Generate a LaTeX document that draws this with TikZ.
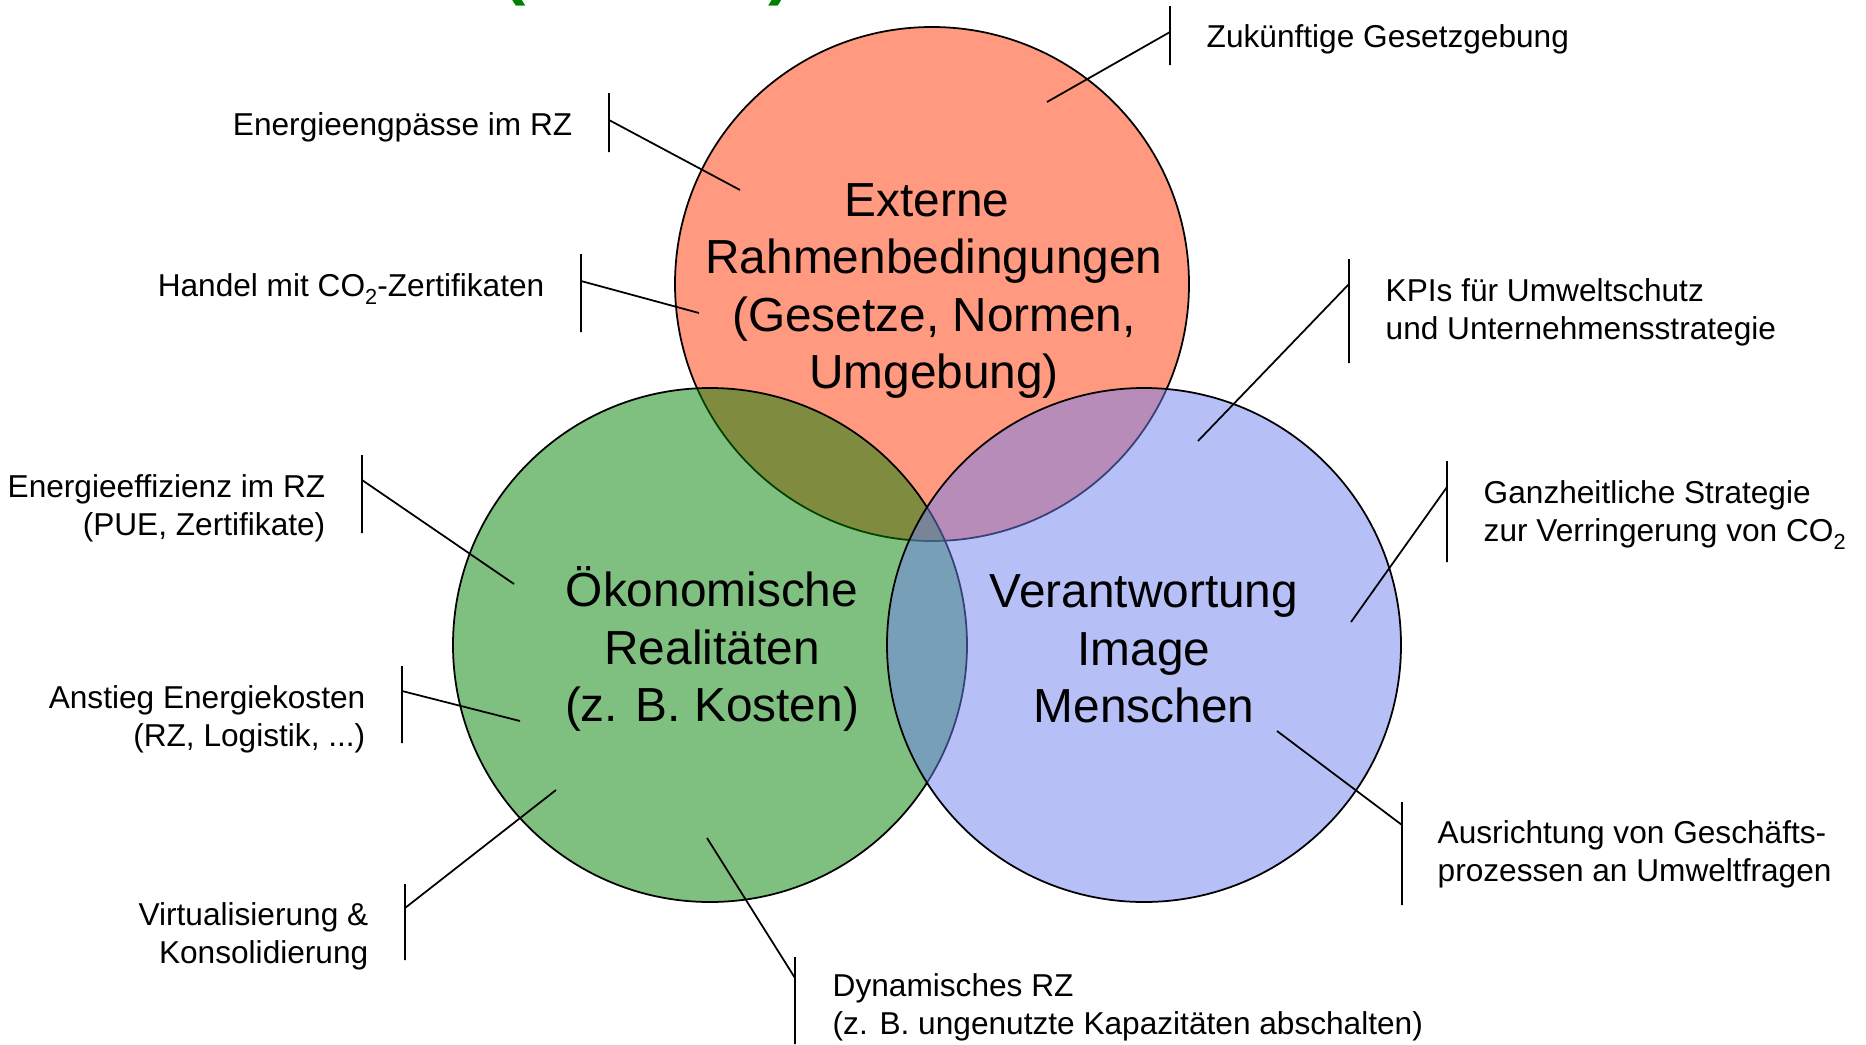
\documentclass[tikz,border=0pt]{standalone}
\usepackage{fontspec}
\setmainfont{Liberation Sans}
\definecolor{extred}{RGB}{255,153,128}
\definecolor{oekogreen}{RGB}{0,128,0}
\definecolor{verblue}{RGB}{112,128,240}
\definecolor{titlegreen}{RGB}{0,128,0}
\newcommand{\cosub}{CO\raisebox{-2.4pt}{\fontsize{6.2}{6.2}\selectfont 2}}
\tikzset{
    venn/.style={circle, draw, line width=0.5pt, minimum size=51.4mm, inner sep=0pt},
    venntext/.style={inner sep=0pt, align=center, font=\fontsize{13.6}{16.4}\selectfont},
    lableft/.style={inner sep=0pt, anchor=base east, align=right,
        font=\fontsize{9}{10.8}\selectfont},
    labright/.style={inner sep=0pt, anchor=base west, align=left,
        font=\fontsize{9}{10.8}\selectfont},
    callout/.style={line width=0.5pt}
}
\begin{document}
\begin{tikzpicture}[x=0.1mm, y=-0.1mm]
    \useasboundingbox (0,0) rectangle (1866,1044);
    % title above, cut off by the page
    \node[text=titlegreen, font=\fontsize{20}{24}\selectfont\bfseries, inner sep=0pt,
        anchor=base west] (title) at (502,-9) {(\hspace{69pt})};
    % the three circles
    \node[venn, fill=extred] (ext) at (932,284) {};
    \node[venn, fill=oekogreen, fill opacity=0.5] (oeko) at (710,645) {};
    \node[venn, fill=verblue, fill opacity=0.5] (verant) at (1144,645) {};
    \node[venntext] (ext-text) at (934,291)
        {Externe\hspace*{0.3em}\\Rahmenbedingungen\\(Gesetze, Normen,\\Umgebung)};
    \node[venntext] (oeko-text) at (712,649)
        {Ökonomische\\Realitäten\\(z. B. Kosten)};
    \node[venntext] (verant-text) at (1144,649)
        {Verantwortung\\Image\\Menschen};

    % callouts on the left
    \node[lableft] (engp) at (573,135) {Energieengpässe im RZ};
    \coordinate (engp-top) at (609,93);
    \coordinate (engp-bot) at (609,152);
    \coordinate (engp-join) at (609,120);
    \coordinate (engp-end) at (740,190);
    \node[lableft] (handel) at (545,296) {Handel mit \cosub-Zertifikaten};
    \coordinate (handel-top) at (581,254);
    \coordinate (handel-bot) at (581,332);
    \coordinate (handel-join) at (581,281);
    \coordinate (handel-end) at (699,313);
    \node[lableft] (eff) at (326,535) {Energieeffizienz im RZ\\(PUE, Zertifikate)};
    \coordinate (eff-top) at (362,455);
    \coordinate (eff-bot) at (362,533);
    \coordinate (eff-join) at (362,480);
    \coordinate (eff-end) at (514,584);
    \node[lableft] (anst) at (366,746) {Anstieg Energiekosten\\(RZ, Logistik, ...)};
    \coordinate (anst-top) at (402,666);
    \coordinate (anst-bot) at (402,743);
    \coordinate (anst-join) at (402,691);
    \coordinate (anst-end) at (520,721);
    \node[lableft] (virt) at (369,963) {Virtualisierung \&\\Konsolidierung};
    \coordinate (virt-top) at (405,884);
    \coordinate (virt-bot) at (405,960);
    \coordinate (virt-join) at (405,908);
    \coordinate (virt-end) at (556,790);

    % callouts on the right
    \node[labright] (zuk) at (1206,47) {Zukünftige Gesetzgebung};
    \coordinate (zuk-top) at (1170,6);
    \coordinate (zuk-bot) at (1170,65);
    \coordinate (zuk-join) at (1170,32);
    \coordinate (zuk-end) at (1047,102);
    \node[labright] (kpi) at (1385,339) {KPIs für Umweltschutz\\und Unternehmensstrategie};
    \coordinate (kpi-top) at (1349,259);
    \coordinate (kpi-bot) at (1349,363);
    \coordinate (kpi-join) at (1349,284);
    \coordinate (kpi-end) at (1198,441);
    \node[labright] (ganz) at (1483,541) {Ganzheitliche Strategie\\zur Verringerung von \cosub};
    \coordinate (ganz-top) at (1447,461);
    \coordinate (ganz-bot) at (1447,562);
    \coordinate (ganz-join) at (1447,487);
    \coordinate (ganz-end) at (1351,622);
    \node[labright] (ausr) at (1437,881) {Ausrichtung von Geschäfts-\\prozessen an Umweltfragen};
    \coordinate (ausr-top) at (1402,802);
    \coordinate (ausr-bot) at (1402,905);
    \coordinate (ausr-join) at (1402,825);
    \coordinate (ausr-end) at (1277,731);
    \node[labright] (dyn) at (832,1034) {Dynamisches RZ\\(z. B. ungenutzte Kapazitäten abschalten)};
    \coordinate (dyn-top) at (795,957);
    \coordinate (dyn-bot) at (795,1044);
    \coordinate (dyn-join) at (795,978);
    \coordinate (dyn-end) at (707,838);

    % brackets and pointer lines
    \foreach \c in {engp,handel,eff,anst,virt,zuk,kpi,ganz,ausr,dyn}
        \draw[callout] (\c-top) -- (\c-bot) (\c-join) -- (\c-end);
\end{tikzpicture}
\end{document}
